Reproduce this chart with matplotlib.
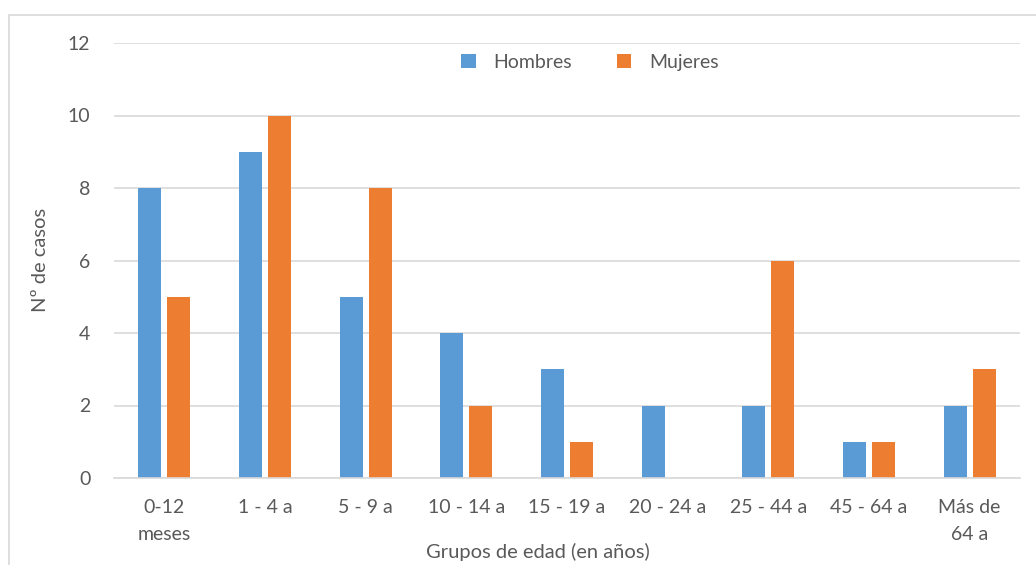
import matplotlib.pyplot as plt
import numpy as np
from matplotlib.patches import Rectangle

# datos del gráfico
grupos = ["0-12\nmeses", "1 - 4 a", "5 - 9 a", "10 - 14 a", "15 - 19 a",
          "20 - 24 a", "25 - 44 a", "45 - 64 a", "Más de\n64 a"]
hombres = [8, 9, 5, 4, 3, 2, 2, 1, 2]
mujeres = [5, 10, 8, 2, 1, 0, 6, 1, 3]

plt.rcParams['font.family'] = ['Lato', 'DejaVu Sans']
gris = '#595959'

W, H = 1036, 565
fig = plt.figure(figsize=(W / 100, H / 100), dpi=100)

# marco exterior
fig.patches.append(Rectangle((9 / W, -0.1), 1.2, (H - 15) / H + 0.1,
                             transform=fig.transFigure, fill=False,
                             edgecolor='#D9D9D9', linewidth=1.2))

ax = fig.add_axes([114 / W, (H - 478) / H, (1020 - 114) / W, (478 - 43) / H])

x = np.arange(len(grupos))
ancho = 0.228
ax.bar(x - 0.144, hombres, ancho, color='#5B9BD5', label='Hombres')
ax.bar(x + 0.144, mujeres, ancho, color='#ED7D31', label='Mujeres')

ax.set_xlim(-0.5, len(grupos) - 0.5)
ax.set_ylim(0, 12)
ax.set_yticks(range(0, 13, 2))
ax.set_xticks(x)
ax.set_xticklabels(grupos, linespacing=1.75)
ax.tick_params(axis='both', length=0, labelsize=14, colors=gris)
ax.tick_params(axis='x', pad=15)
ax.tick_params(axis='y', pad=17)

ax.yaxis.grid(True, color='#D9D9D9', linewidth=1.2)
ax.set_axisbelow(True)
for s in ['top', 'right', 'left']:
    ax.spines[s].set_visible(False)
ax.spines['bottom'].set_color('#D9D9D9')
ax.spines['bottom'].set_linewidth(1.2)

fig.text(40 / W, 1 - 260 / H, 'Nº de casos', rotation=90, ha='center',
         va='center', fontsize=14.5, color=gris)
fig.text(538 / W, 1 - 552 / H, 'Grupos de edad (en años)', ha='center',
         va='center', fontsize=14.5, color=gris)

leg = ax.legend(loc='center', bbox_to_anchor=(590 / W, 1 - 62 / H),
                bbox_transform=fig.transFigure, ncol=2, frameon=False,
                fontsize=14, handlelength=0.75, handleheight=0.75,
                columnspacing=2.3, handletextpad=0.9)
for t in leg.get_texts():
    t.set_color(gris)

fig.savefig('out.png', dpi=100)
